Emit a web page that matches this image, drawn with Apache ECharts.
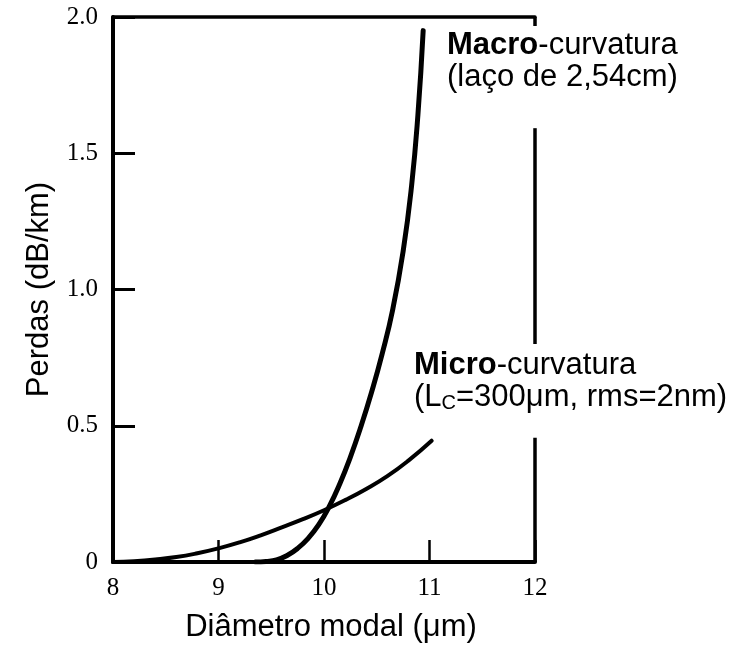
<!DOCTYPE html>
<html>
<head>
<meta charset="utf-8">
<script src="https://cdn.jsdelivr.net/npm/echarts@6/dist/echarts.min.js"></script>
<style>html,body{margin:0;padding:0;background:#fff;}#c{width:737px;height:651px;}</style>
</head>
<body>
<div id="c"></div>
<script>
// Macro-curvatura curve (diameter in um, loss in dB/km)
var macroX = [9.35, 9.45, 9.55, 9.65, 9.75, 9.85, 9.95, 10.05, 10.15, 10.25, 10.35, 10.45, 10.55, 10.65, 10.75, 10.83, 10.89, 10.94];
var macroY = [0.0, 0.002, 0.008, 0.024, 0.05, 0.087, 0.137, 0.204, 0.287, 0.385, 0.497, 0.622, 0.762, 0.924, 1.14, 1.38, 1.64, 1.95];
// Micro-curvatura curve
var microX = [8.0, 8.2, 8.4, 8.6, 8.8, 9.0, 9.2, 9.4, 9.6, 9.8, 10.0, 10.2, 10.4, 10.6, 10.8, 11.02];
var microY = [0.0, 0.003, 0.009, 0.018, 0.032, 0.05, 0.072, 0.098, 0.127, 0.157, 0.19, 0.227, 0.268, 0.315, 0.372, 0.445];
// axis ranges and tick labels
var xTicks = [8, 9, 10, 11, 12];
var yTicks = ['0', '0.5', '1.0', '1.5', '2.0'];
// visible pieces of the right frame edge (y ranges at x = 12)
var rightEdgeRanges = [[0, 0.456], [0.80, 1.592], [1.967, 2.0]];

var sans = 'Liberation Sans, Arial, sans-serif';
var serif = 'Liberation Serif, Times New Roman, serif';

function pairs(xs, ys) { return xs.map(function (x, i) { return [x, ys[i]]; }); }

var chart = echarts.init(document.getElementById('c'));
chart.setOption({
  animation: false,
  backgroundColor: '#fff',
  grid: { left: 113, top: 17, right: 202, bottom: 89, show: false },
  xAxis: [{
    type: 'value', min: xTicks[0], max: xTicks[xTicks.length - 1], interval: 1,
    position: 'bottom',
    name: 'Diâmetro modal (μm)', nameLocation: 'middle', nameGap: 50,
    nameTextStyle: { fontFamily: sans, fontSize: 31, color: '#000', padding: [0, 0, 0, 14] },
    axisLine: { show: true, onZero: false, lineStyle: { color: '#000', width: 4 } },
    axisTick: { show: true, inside: true, length: 22, lineStyle: { color: '#000', width: 2.5 } },
    axisLabel: { fontFamily: serif, fontSize: 25, color: '#000', margin: 14 },
    splitLine: { show: false }
  }, {
    type: 'value', min: xTicks[0], max: xTicks[xTicks.length - 1], position: 'top',
    axisLine: { show: true, onZero: false, lineStyle: { color: '#000', width: 3.5 } },
    axisTick: { show: false }, axisLabel: { show: false }, splitLine: { show: false }
  }],
  yAxis: {
    type: 'value', min: 0, max: 2, interval: 0.5,
    name: 'Perdas (dB/km)', nameLocation: 'middle', nameGap: 58,
    nameTextStyle: { fontFamily: sans, fontSize: 31, color: '#000' },
    axisLine: { show: true, onZero: false, lineStyle: { color: '#000', width: 4 } },
    axisTick: { show: true, inside: true, length: 22, lineStyle: { color: '#000', width: 3 } },
    axisLabel: {
      fontFamily: serif, fontSize: 25, color: '#000', margin: 15,
      formatter: function (v) { return yTicks[Math.round(v / 0.5)]; }
    },
    splitLine: { show: false }
  },
  series: [{
    name: 'Macro', type: 'line', smooth: 0.5, showSymbol: false, silent: true,
    data: pairs(macroX, macroY),
    lineStyle: { color: '#000', width: 5, cap: 'round', join: 'round' },
    markLine: {
      silent: true, symbol: ['none', 'none'], label: { show: false },
      lineStyle: { color: '#000', width: 3.5, type: 'solid' },
      data: rightEdgeRanges.map(function (r) {
        return [{ coord: [xTicks[xTicks.length - 1], r[0]] }, { coord: [xTicks[xTicks.length - 1], r[1]] }];
      })
    }
  }, {
    name: 'Micro', type: 'line', smooth: 0.5, showSymbol: false, silent: true,
    data: pairs(microX, microY),
    lineStyle: { color: '#000', width: 4, cap: 'round', join: 'round' }
  }],
  graphic: [{
    type: 'text', left: 447, top: 29,
    style: {
      text: '{b|Macro}-curvatura\n(laço de 2,54cm)',
      fontFamily: sans, fontSize: 31, fill: '#000', lineHeight: 32,
      rich: { b: { fontFamily: sans, fontSize: 31, fontWeight: 'bold', lineHeight: 32 } }
    }
  }, {
    type: 'text', left: 414, top: 349,
    style: {
      text: '{b|Micro}-curvatura\n(L{s|C}=300μm, rms=2nm)',
      fontFamily: sans, fontSize: 31, fill: '#000', lineHeight: 32,
      rich: {
        b: { fontFamily: sans, fontSize: 31, fontWeight: 'bold', lineHeight: 32 },
        s: { fontFamily: sans, fontSize: 20, lineHeight: 14, verticalAlign: 'bottom' }
      }
    }
  }]
});
</script>
</body>
</html>
